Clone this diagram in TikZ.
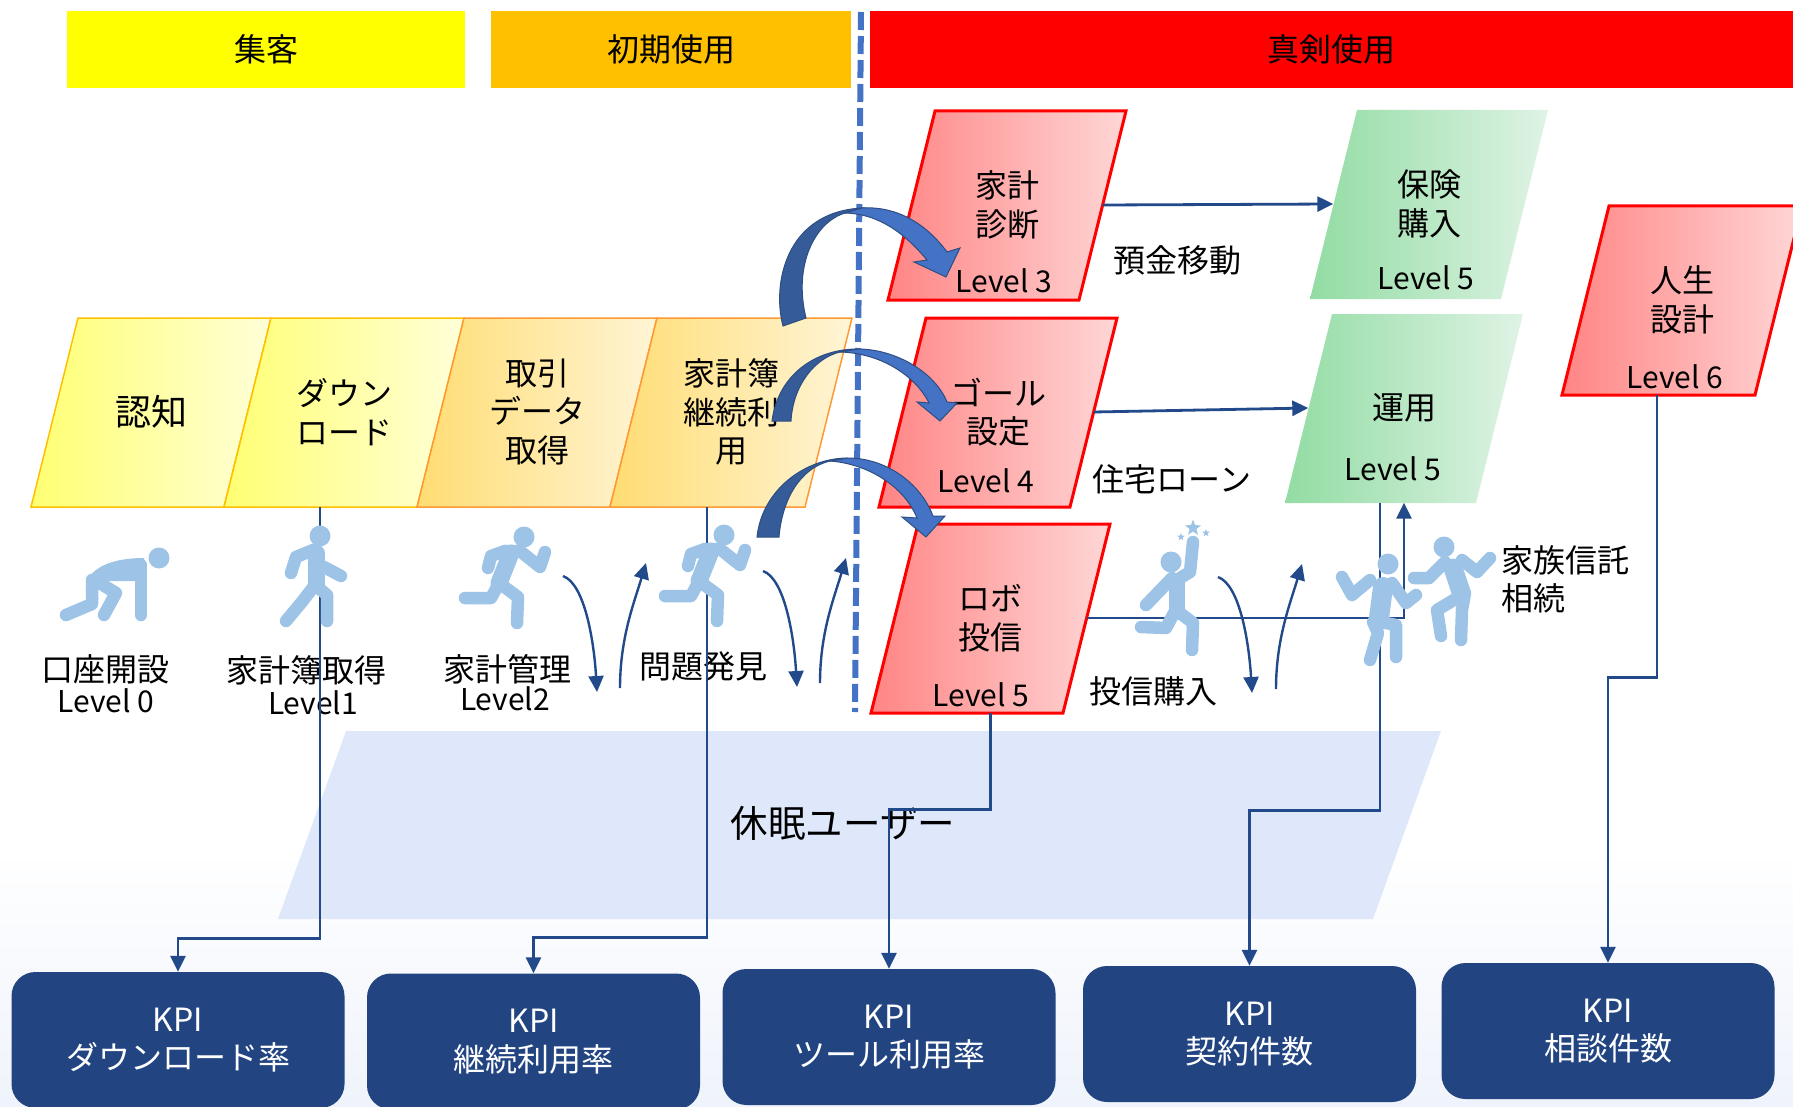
\documentclass[tikz,border=0pt]{standalone}
\usepackage{fontspec}
\setmainfont{Noto Sans CJK JP}
\usetikzlibrary{arrows.meta,shapes.geometric}
\definecolor{flowblue}{HTML}{224A8A}
\definecolor{kpiblue}{HTML}{224582}
\definecolor{figblue}{HTML}{9DC3E6}
\definecolor{dashblue}{HTML}{4472C4}
\definecolor{bentdark}{HTML}{355C99}
\definecolor{puregold}{HTML}{FFC000}
\definecolor{pureyellow}{HTML}{FFFF00}
\definecolor{purered}{HTML}{FF0000}
\definecolor{sleepblue}{HTML}{DFE8FB}
\definecolor{fadeblue}{HTML}{EFF3FB}
\definecolor{greenleft}{HTML}{92DCA3}
\definecolor{greenright}{HTML}{DFF3E5}
\newcommand{\slantbox}[6]{%
  \path[#1] (#3,#4) -- ++(#5,0) -- ++(-47,189) -- ++(-#5,0) -- cycle;
  \node[label, minimum width=#5pt, minimum height=189pt] (#2) at (#3+#5/2-23.5,#4+94) {#6}}
\newcommand{\connectkpi}[3]{%
  \draw[flow, ->] (#1) -- ++(0,#2) -| (#3.north)}
\newcommand{\connectbox}[2]{%
  \draw[flow, ->] (#1.east) -- (#2.west)}
\newcommand{\hopdown}[2]{%
  \coordinate (h#1) at (#2);
  \draw[hop, ->] (h#1) .. controls +(22,8) and +(-3,-50) .. +(34,116)}
\newcommand{\hopup}[2]{%
  \coordinate (h#1) at (#2);
  \draw[hop, ->] (h#1) .. controls +(0,-50) and +(-12,40) .. +(26,-125)}
\newcommand{\runner}[2]{%
  \begin{scope}[shift={(#1,#2)}, figure]
    \node[head] (runhead#1) at (524,537) {};
    \draw (505,551) -- (491,556) -- (488,568);
    \draw (505,551) -- (520,551) -- (540,567) -- (545,552);
    \draw[line width=17pt] (511,553) -- (499,583);
    \draw (497,587) -- (491,598) -- (465,598);
    \draw (499,583) -- (518,597) -- (517,623);
  \end{scope}}

\begin{document}
\begin{tikzpicture}[x=1pt, y=-1pt,
    >={Stealth[length=16pt, width=15pt, inset=0pt]},
    label/.style={font=\fontsize{32}{38.5}\selectfont, align=center, inner sep=0pt},
    level/.style={font=\fontsize{30}{33}\selectfont, align=center, inner sep=0pt},
    header/.style={label, minimum height=77pt},
    yellowbox/.style={left color=yellow!55!white, right color=yellow!15!white, draw=puregold, line width=1.5pt},
    orangebox/.style={left color=puregold!55!white, right color=puregold!16!white, draw=orange!80, line width=1.5pt},
    redbox/.style={left color=purered!48!white, right color=purered!16!white, draw=purered, line width=3pt},
    greenbox/.style={left color=greenleft, right color=greenright},
    kpi/.style={label, text=white, fill=kpiblue, rounded corners=24pt, minimum width=333pt, minimum height=136pt},
    flow/.style={draw=flowblue, line width=2.8pt},
    hop/.style={draw=flowblue, line width=2.4pt},
    figure/.style={draw=figblue, fill=none, line width=12.5pt, line cap=round, line join=round},
    head/.style={circle, fill=figblue, draw=none, inner sep=0pt, minimum size=21pt},
    bent/.style={fill=bentdark, draw=bentdark!85!black, line width=1pt, line join=miter},
    bentlight/.style={fill=dashblue, draw=bentdark!85!black, line width=1pt, line join=miter}]
  \useasboundingbox (0,0) rectangle (1793,1107);
  \shade[top color=white, bottom color=fadeblue] (0,850) rectangle (1793,1107);

  \node[header, fill=pureyellow, minimum width=398pt] (stage1) at (266,49.5) {集客};
  \node[header, fill=puregold, minimum width=360pt] (stage2) at (671,49.5) {初期使用};
  \node[header, fill=purered, minimum width=923pt] (stage3) at (1331.5,49.5) {真剣使用};

  \path[fill=sleepblue] (346,731) -- (1441,731) -- (1373,919) -- (278,919) -- cycle;
  \node[label, font=\fontsize{37.5}{44}\selectfont] (sleep) at (843,823) {休眠ユーザー};

  \slantbox{yellowbox}{aware}{78}{318}{193}{\fontsize{36}{44}\selectfont 認知};
  \slantbox{yellowbox}{download}{271}{318}{193}{ダウン\\ロード};
  \slantbox{orangebox}{account}{464}{318}{193}{取引\\データ\\取得};
  \slantbox{orangebox}{book}{657}{318}{195}{家計簿\\継続利\\用};

  \slantbox{redbox}{diag}{935}{111}{191}{家計\\診断};
  \slantbox{redbox}{goal}{926}{318}{191}{ゴール\\設定};
  \slantbox{redbox}{robo}{918}{524}{192}{ロボ\\投信};
  \slantbox{redbox}{life}{1609}{206}{193}{人生\\設計};
  \slantbox{greenbox}{insure}{1357}{110}{191}{保険\\購入};
  \slantbox{greenbox}{invest}{1332}{314}{191}{運用};

  \node[level] (lv3) at (1004,281) {Level 3};
  \node[level] (lv4) at (986,481) {Level 4};
  \node[level] (lv5a) at (981,695) {Level 5};
  \node[level] (lv5b) at (1426,278) {Level 5};
  \node[level] (lv5c) at (1393,469) {Level 5};
  \node[level] (lv6) at (1675,377) {Level 6};

  \node[label] (deposit) at (1177,260) {預金移動};
  \node[label] (loan) at (1172,479) {住宅ローン};
  \node[label] (fund) at (1153,691) {投信購入};
  \node[label] (open) at (105,669) {口座開設};
  \node[level] (lv0) at (106,701) {Level 0};
  \node[label] (getbook) at (306,670) {家計簿取得};
  \node[level] (lv1) at (313,703) {Level1};
  \node[label] (manage) at (507,669) {家計管理};
  \node[level] (lv2) at (505,699) {Level2};
  \node[label] (problem) at (703,666) {問題発見};
  \node[label, align=left] (trust) at (1565,579.5) {家族信託\\相続\hspace{64pt}};

  \node[kpi] (kpi1) at (178,1040) {KPI\\ダウンロード率};
  \node[kpi] (kpi2) at (533.5,1041.5) {KPI\\継続利用率};
  \node[kpi] (kpi3) at (889,1037) {KPI\\ツール利用率};
  \node[kpi] (kpi4) at (1249.5,1034) {KPI\\契約件数};
  \node[kpi] (kpi5) at (1608,1031) {KPI\\相談件数};

  \connectkpi{[xshift=-24pt]download.south}{432}{kpi1};
  \connectkpi{[xshift=-24pt]book.south}{431}{kpi2};
  \connectkpi{robo.south}{97}{kpi3};
  \connectkpi{[xshift=-24pt]invest.south}{308}{kpi4};
  \connectkpi{[xshift=-25pt]life.south}{283}{kpi5};
  \connectbox{diag}{insure};
  \connectbox{goal}{invest};
  \draw[flow, ->] (robo.east) -| (invest.south);

  \hopdown{a}{563,576};
  \hopup{b}{620,688};
  \hopdown{c}{763,571};
  \hopup{d}{820,683};
  \hopdown{e}{1218,577};
  \hopup{f}{1276,689};

  \coordinate (dashtop) at (861,12);
  \coordinate (dashend) at (855,712);
  \draw[dashblue, line width=6pt, dash pattern=on 18pt off 6pt] (dashtop) -- (dashend);

  % bent arrows over the dashed line
  \path[bent] (783,326) .. controls (772,285) and (785,212) .. (862,208) -- (845,213)
    .. controls (815,222) and (793,265) .. (806,318) -- cycle;
  \path[bentlight] (845,213) -- (862,208) .. controls (895,206) and (925,222) .. (947,252)
    -- (960,248) -- (946,277) -- (914,262) -- (927,260) .. controls (905,234) and (880,214) .. (845,213) -- cycle;
  \path[bent] (772,421) .. controls (778,375) and (815,349) .. (858,349) -- (840,352)
    .. controls (815,358) and (793,385) .. (791,421) -- cycle;
  \path[bentlight] (840,352) -- (858,349) .. controls (895,349) and (935,372) .. (947,402)
    -- (957,403) -- (940,421) -- (917,402) -- (929,403) .. controls (915,375) and (880,353) .. (840,352) -- cycle;
  \path[bent] (757,537) .. controls (762,490) and (805,458) .. (848,458) -- (830,461)
    .. controls (800,468) and (782,500) .. (779,537) -- cycle;
  \path[bentlight] (830,461) -- (848,458) .. controls (885,458) and (920,482) .. (933,516)
    -- (945,516) -- (926,537) -- (902,517) -- (917,518) .. controls (905,488) and (870,464) .. (830,461) -- cycle;

  % people
  \begin{scope}[figure]
    \node[head] (crouch) at (159,558) {};
    \fill[figblue, draw=none] (86,592) .. controls (84,572) and (105,558) .. (144,558) -- (146,581) -- (86,581) -- cycle;
    \draw (66,615) -- (92,604) -- (92,580);
    \draw (98,582) -- (116,593) -- (104,615);
    \draw (141,565) -- (141,615);

    \node[head] (walker) at (320,536) {};
    \draw (313,550) -- (296,557) -- (291,573);
    \draw (324,567) -- (341,576);
    \draw[line width=17pt] (316,553) -- (316,585);
    \draw (315,585) -- (301,603) -- (286,621);
    \draw (315,585) -- (327,595) -- (327,621);

    \node[head] (reacher) at (1171,562) {};
    \draw[line width=16pt] (1177,582) -- (1177,612);
    \draw (1180,578) -- (1190,572) -- (1193,542);
    \draw (1172,578) -- (1146,605);
    \draw (1174,613) -- (1166,628) -- (1141,627);
    \draw (1180,613) -- (1193,623) -- (1192,650);

    \node[head] (dancerone) at (1388,564) {};
    \draw (1370,580) -- (1352,595) -- (1342,577);
    \draw[line width=20pt] (1383,587) -- (1379,618);
    \draw (1392,583) -- (1406,603) -- (1416,595);
    \draw (1373,622) -- (1378,633) -- (1370,660);
    \draw (1381,622) -- (1396,625) -- (1396,657);

    \node[head] (dancertwo) at (1444,547) {};
    \draw (1462,560) -- (1477,572) -- (1490,558);
    \draw (1445,562) -- (1429,578) -- (1414,578);
    \draw[line width=19pt] (1453,568) -- (1461,592);
    \draw (1457,598) -- (1437,610) -- (1441,636);
    \draw (1465,593) -- (1462,610) -- (1461,640);
  \end{scope}
  \runner{0}{0};
  \runner{200}{-2};
  \node[star, star points=5, star point ratio=2.4, fill=figblue, inner sep=0pt, minimum size=17pt] (bigstar) at (1193,528) {};
  \node[star, star points=5, star point ratio=2.4, fill=figblue, inner sep=0pt, minimum size=8pt] (starl) at (1181,537) {};
  \node[star, star points=5, star point ratio=2.4, fill=figblue, inner sep=0pt, minimum size=8pt] (starr) at (1206,533) {};
\end{tikzpicture}
\end{document}
